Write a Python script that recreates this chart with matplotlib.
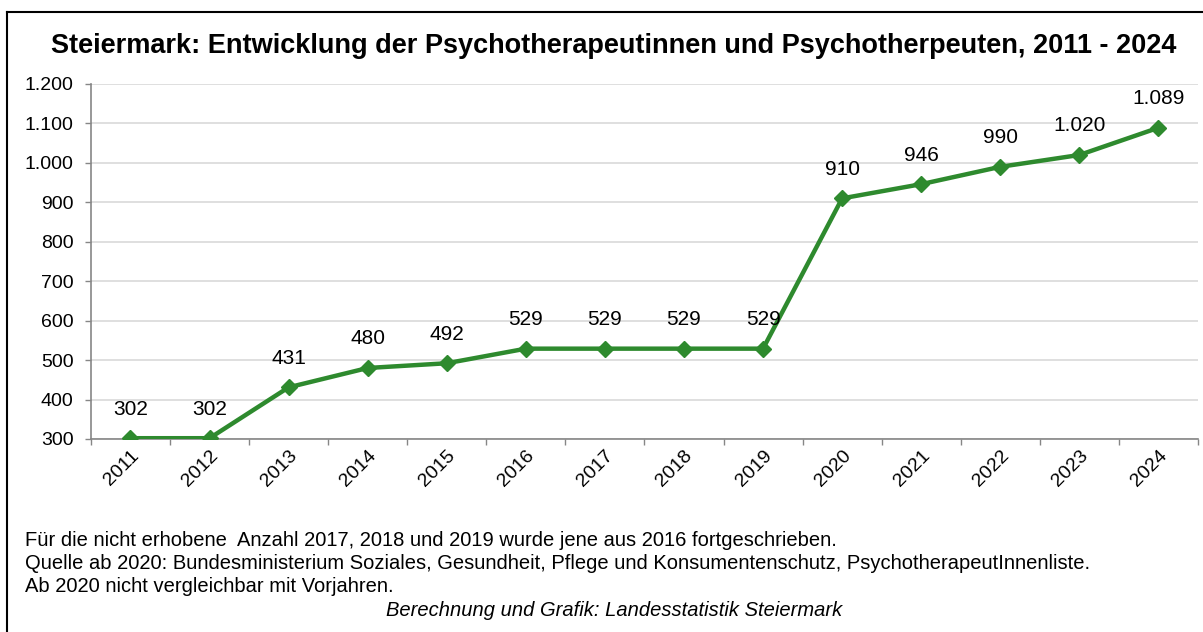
import matplotlib
matplotlib.use('Agg')
import matplotlib.pyplot as plt
from matplotlib.lines import Line2D
from matplotlib.ticker import FuncFormatter, FixedLocator, MultipleLocator

# --- Data
years = ['2011', '2012', '2013', '2014', '2015', '2016', '2017',
         '2018', '2019', '2020', '2021', '2022', '2023', '2024']
counts = [302, 302, 431, 480, 492, 529, 529, 529, 529, 910, 946, 990, 1020, 1089]

title = 'Steiermark: Entwicklung der Psychotherapeutinnen und Psychotherpeuten, 2011 - 2024'
notes = ['Für die nicht erhobene  Anzahl 2017, 2018 und 2019 wurde jene aus 2016 fortgeschrieben.',
         'Quelle ab 2020: Bundesministerium Soziales, Gesundheit, Pflege und Konsumentenschutz, PsychotherapeutInnenliste.',
         'Ab 2020 nicht vergleichbar mit Vorjahren.']
credit = 'Berechnung und Grafik: Landesstatistik Steiermark'

plt.rcParams['font.family'] = ['Liberation Sans', 'DejaVu Sans']

def de_fmt(v, pos=None):
  return '{:,.0f}'.format(v).replace(',', '.')

fig = plt.figure(figsize=(12.03, 6.32), dpi=100)
ax = fig.add_axes([0.0756, 0.3054, 0.9202, 0.5617])

x = list(range(len(years)))
green = '#2e8a2e'
ax.plot(x, counts, color=green, linewidth=3.2, marker='D', markersize=8.5, zorder=3)

for xi, v in zip(x, counts):
  ax.annotate(de_fmt(v), xy=(xi, v), xytext=(0, 21), textcoords='offset points',
              ha='center', va='center', fontsize=15)

ax.set_xlim(-0.5, len(years) - 0.5)
ax.set_ylim(300, 1200)
ax.yaxis.set_major_locator(MultipleLocator(100))
ax.yaxis.set_major_formatter(FuncFormatter(de_fmt))

# category labels at centers, tick marks at boundaries
ax.set_xticks(x)
ax.set_xticklabels(years, rotation=45, ha='right', va='top', rotation_mode='anchor')
ax.tick_params(axis='x', which='major', length=0, labelsize=14, pad=6)
ax.xaxis.set_minor_locator(FixedLocator([i - 0.5 for i in range(len(years) + 1)]))
ax.tick_params(axis='x', which='minor', length=4.5, color='#868686', width=1)
ax.tick_params(axis='y', length=4.5, color='#868686', width=1, labelsize=14, pad=8)

ax.grid(axis='y', color='#d9d9d9', linewidth=1.2)
ax.set_axisbelow(True)
for s in ['top', 'right']:
  ax.spines[s].set_visible(False)
for s in ['left', 'bottom']:
  ax.spines[s].set_color('#868686')
  ax.spines[s].set_linewidth(1.2)

fig.text(0.51, 1 - 46 / 632, title, ha='center', va='center', fontsize=19.5, fontweight='bold')

for i, line in enumerate(notes):
  fig.text(25 / 1203, 1 - (540 + i * 23.5) / 632, line, ha='left', va='center', fontsize=14.5)
fig.text(614 / 1203, 1 - 610 / 632, credit, ha='center', va='center', fontsize=14.5, style='italic')

# chart frame (only top and left edges visible)
fig.add_artist(Line2D([7 / 1203, 7 / 1203], [0, 1 - 12 / 632], transform=fig.transFigure, color='black', linewidth=1.5))
fig.add_artist(Line2D([7 / 1203, 1], [1 - 12 / 632, 1 - 12 / 632], transform=fig.transFigure, color='black', linewidth=1.5))

plt.savefig('out.png', dpi=100)
